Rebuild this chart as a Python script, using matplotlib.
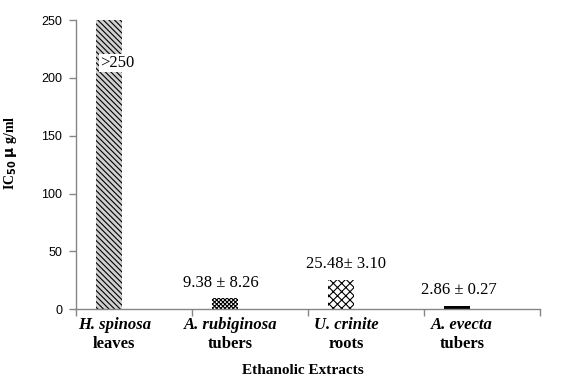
import numpy as np
import matplotlib
matplotlib.use("Agg")
import matplotlib.pyplot as plt

# IC50 values of the ethanolic extracts
species = ["H. spinosa", "A. rubiginosa", "U. crinite", "A. evecta"]
parts = ["leaves", "tubers", "roots", "tubers"]
ic50 = [250, 9.38, 25.48, 2.86]
value_labels = [">250", "9.38 \u00b1 8.26", "25.48\u00b1 3.10", "2.86 \u00b1 0.27"]
y_ticks = [0, 50, 100, 150, 200, 250]

serif = ["Liberation Serif", "DejaVu Serif"]
sans = ["Liberation Sans", "DejaVu Sans"]
axis_grey = "#868686"

plt.rcParams["hatch.linewidth"] = 0.8

fig = plt.figure(figsize=(5.63, 3.86), dpi=100)
ax = fig.add_axes([0.135, 0.199, 0.824, 0.749])

x = np.arange(len(ic50))
styles = [
    dict(facecolor="#d0d0d0", hatch="\\\\\\\\\\\\", edgecolor="black"),
    dict(facecolor="white", hatch="xxxxxxxx", edgecolor="black"),
    dict(facecolor="white", hatch="xxxx", edgecolor="black"),
    dict(facecolor="black", hatch=None, edgecolor="black"),
]
for xi, val, st in zip(x, ic50, styles):
    ax.bar(xi, val, width=0.22, linewidth=0, **st)

ax.set_ylim(0, 250)
ax.set_xlim(-0.285, len(ic50) - 0.285)
ax.set_yticks(y_ticks)
ax.set_yticklabels([str(t) for t in y_ticks], family=sans, fontsize=9)

# category boundaries as x ticks
ax.set_xticks(np.arange(len(ic50) + 1) - 0.285)
ax.set_xticklabels([])
ax.tick_params(axis="both", direction="out", length=5, color=axis_grey, width=1)
ax.tick_params(axis="y", pad=5)

for side in ["top", "right"]:
    ax.spines[side].set_visible(False)
for side in ["left", "bottom"]:
    ax.spines[side].set_color(axis_grey)
    ax.spines[side].set_linewidth(1)

# two-line category labels: italic species, plain plant part
tr = ax.get_xaxis_transform()
for xi, sp, pt in zip(x, species, parts):
    ax.text(xi + 0.045, -0.055, sp, transform=tr, ha="center", va="center",
            family=serif, fontsize=12, fontweight="bold", fontstyle="italic")
    ax.text(xi + 0.045, -0.12, pt, transform=tr, ha="center", va="center",
            family=serif, fontsize=12, fontweight="bold")

# value labels
ax.text(x[0] + 0.07, 213, value_labels[0], ha="center", va="center",
        family=serif, fontsize=12,
        bbox=dict(facecolor="white", edgecolor="none", pad=1))
dx = [None, -0.04, 0.045, 0.02]
for xi, val, lab, d in zip(x[1:], ic50[1:], value_labels[1:], dx[1:]):
    ax.text(xi + d, val + 13.5, lab, ha="center", va="center",
            family=serif, fontsize=12)

ax.set_xlabel("Ethanolic Extracts", family=serif, fontsize=11,
              fontweight="bold")
ax.xaxis.set_label_coords(0.49, -0.19)
ax.set_ylabel(r"IC$_{\mathbf{50}}$ $\mathbf{\mu}$ g/ml", family=serif, fontsize=10,
              fontweight="bold")
ax.yaxis.set_label_coords(-0.122, 0.54)

fig.savefig("out.png", dpi=100)
